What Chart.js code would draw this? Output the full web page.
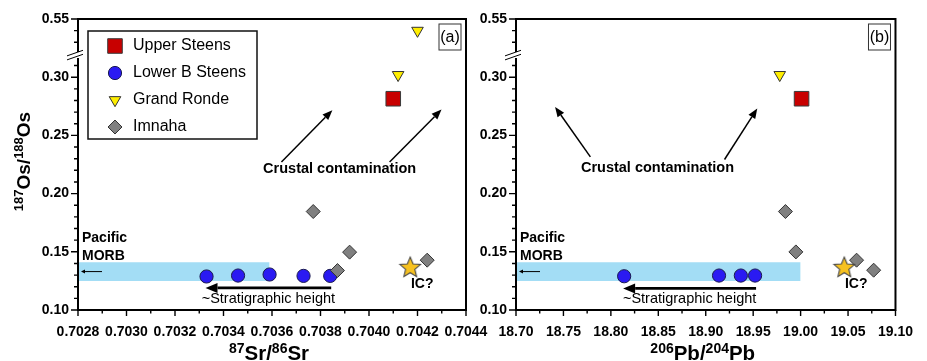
<!DOCTYPE html>
<html>
<head>
<meta charset="utf-8">
<title>187Os/188Os vs 87Sr/86Sr and 206Pb/204Pb</title>
<script src="https://cdn.jsdelivr.net/npm/chart.js@4.4.1/dist/chart.umd.min.js"></script>
<style>
  html, body { margin: 0; padding: 0; background: #fff; }
  #wrap { position: relative; width: 927px; height: 361px; }
  #wrap canvas { position: absolute; left: 0; top: 0; }
</style>
</head>
<body>
<div id="wrap">
  <canvas id="srChart" width="927" height="361"></canvas>
  <canvas id="pbChart" width="927" height="361"></canvas>
</div>
<script>
// ---- data ----
const seriesNames = ['Upper Steens', 'Lower B Steens', 'Grand Ronde', 'Imnaha'];

const upperSr = [0.70410];
const upperPb = [19.001];
const upperOsSr = [0.2815];
const upperOsPb = [0.2815];

const lowerSr = [0.70333, 0.70346, 0.70359, 0.70373, 0.70384];
const lowerOsSr = [0.1288, 0.1296, 0.1305, 0.1293, 0.1293];
const lowerPb = [18.814, 18.914, 18.937, 18.952];
const lowerOsPb = [0.1290, 0.1296, 0.1296, 0.1296];

const grandSr = [0.70420, 0.70412];
const grandOsSr = [0.540, 0.302];
const grandPb = [18.978];
const grandOsPb = [0.302];

const imnahaSr = [0.70377, 0.70392, 0.70387, 0.70424];
const imnahaOsSr = [0.1846, 0.1497, 0.1339, 0.1428];
const imnahaPb = [18.984, 18.995, 19.059, 19.077];
const imnahaOsPb = [0.1846, 0.1499, 0.1428, 0.1342];

const icSr = [0.70417];
const icPb = [19.046];
const icOs = [0.137];

// Pacific MORB field (Os range, upper end on each x axis)
const morbOs = [0.125, 0.141];
const morbSrMax = 0.70359;
const morbPbMax = 19.00;

const srTickLabels = ['0.7028', '0.7030', '0.7032', '0.7034', '0.7036', '0.7038', '0.7040', '0.7042', '0.7044'];
const pbTickLabels = ['18.70', '18.75', '18.80', '18.85', '18.90', '18.95', '19.00', '19.05', '19.10'];
const osTickLabels = ['0.10', '0.15', '0.20', '0.25', '0.30', '0.55'];

// y axis is broken between 0.33 and 0.53
const osGap = [0.33, 0.53];
const brk = v => (v >= osGap[1] ? v - (osGap[1] - osGap[0]) : v);

// ---- styles ----
const FONT = "'Liberation Sans', Arial, Helvetica, sans-serif";
Chart.defaults.font.family = FONT;
Chart.defaults.color = '#000';

const colors = {
  upper: '#c80000',
  lower: '#2a1af2',
  grand: '#ffee00',
  imnaha: '#808080',
  star: '#f7c220',
  morb: '#a3ddf5'
};

// filled five point star used as a point style
function makeStar(size, fill, stroke) {
  const c = document.createElement('canvas');
  c.width = size; c.height = size;
  const g = c.getContext('2d');
  const R = size / 2 - 1.2, r = R * 0.45, cx = size / 2, cy = size / 2 + 0.9;
  g.beginPath();
  for (let k = 0; k < 10; k++) {
    const rad = -Math.PI / 2 + k * Math.PI / 5;
    const rr = k % 2 ? r : R;
    g.lineTo(cx + Math.cos(rad) * rr, cy + Math.sin(rad) * rr);
  }
  g.closePath();
  g.fillStyle = fill; g.fill();
  g.strokeStyle = stroke; g.lineWidth = 1.1; g.stroke();
  return c;
}
const starImg = makeStar(24, colors.star, '#444');

// minor tick positions
const osMinor = [];
for (let k = 11; k <= 31; k++) if (k % 5) osMinor.push(k / 100);
osMinor.push(brk(0.53), brk(0.54));
const mids = vals => vals.slice(1).map((v, i) => (v + vals[i]) / 2);

const pts = (xs, ys) => xs.map((x, i) => ({ x, y: brk(ys[i]) }));

function buildDatasets(s) {
  return [
    { label: 'IC?', data: pts(s.icX, icOs), pointStyle: starImg, pointRadius: 12, backgroundColor: colors.star, borderColor: '#444', borderWidth: 1 },
    { label: 'Imnaha', data: pts(s.imnahaX, s.imnahaY), pointStyle: 'rectRot', pointRadius: 7, backgroundColor: colors.imnaha, borderColor: '#333', borderWidth: 1 },
    { label: 'Grand Ronde', data: pts(s.grandX, s.grandY), pointStyle: 'triangle', rotation: 180, pointRadius: 6.7, backgroundColor: colors.grand, borderColor: '#333', borderWidth: 1 },
    { label: 'Upper Steens', data: pts(s.upperX, s.upperY), pointStyle: 'rect', pointRadius: 10.3, backgroundColor: colors.upper, borderColor: '#3a3a3a', borderWidth: 1 },
    { label: 'Lower B Steens', data: pts(s.lowerX, s.lowerY), pointStyle: 'circle', pointRadius: 6.6, backgroundColor: colors.lower, borderColor: '#1a1a50', borderWidth: 1 },
    { label: 'morbTop', type: 'line', data: [{ x: s.xMin, y: morbOs[1] }, { x: s.morbMax, y: morbOs[1] }],
      borderWidth: 0, pointRadius: 0, fill: '+1', backgroundColor: colors.morb },
    { label: 'morbBottom', type: 'line', data: [{ x: s.xMin, y: morbOs[0] }, { x: s.morbMax, y: morbOs[0] }],
      borderWidth: 0, pointRadius: 0, fill: false }
  ];
}

// ---- drawing helpers ----
function arrow(ctx, x1, y1, x2, y2, lw, headLen, headW) {
  const ang = Math.atan2(y2 - y1, x2 - x1);
  const bx = x2 - Math.cos(ang) * headLen, by = y2 - Math.sin(ang) * headLen;
  ctx.lineWidth = lw;
  ctx.beginPath(); ctx.moveTo(x1, y1); ctx.lineTo(bx, by); ctx.stroke();
  ctx.beginPath();
  ctx.moveTo(x2, y2);
  ctx.lineTo(bx + Math.sin(ang) * headW / 2, by - Math.cos(ang) * headW / 2);
  ctx.lineTo(bx - Math.sin(ang) * headW / 2, by + Math.cos(ang) * headW / 2);
  ctx.closePath(); ctx.fill();
}

// text with superscript parts, centred on x, baseline y
function richText(ctx, parts, x, y, big, small, raise) {
  let total = 0;
  const widths = parts.map(p => {
    ctx.font = p.sup ? small : big;
    const w = ctx.measureText(p.t).width;
    total += w;
    return w;
  });
  let cx = x - total / 2;
  ctx.textAlign = 'left';
  ctx.textBaseline = 'alphabetic';
  parts.forEach((p, i) => {
    ctx.font = p.sup ? small : big;
    ctx.fillText(p.t, cx, p.sup ? y - raise : y);
    cx += widths[i];
  });
}

// frame, tick marks and axis break
const framePlugin = {
  id: 'frame',
  afterDraw(chart, args, opts) {
    const { ctx, chartArea: a, scales: { x, y } } = chart;
    ctx.save();
    ctx.strokeStyle = '#000';
    ctx.lineWidth = 1.4;
    ctx.beginPath();
    x.ticks.forEach(t => { const p = x.getPixelForValue(t.value); ctx.moveTo(p, a.bottom); ctx.lineTo(p, a.bottom + 6); });
    mids(x.ticks.map(t => t.value)).forEach(v => { const p = x.getPixelForValue(v); ctx.moveTo(p, a.bottom); ctx.lineTo(p, a.bottom + 3.5); });
    y.ticks.forEach(t => { const p = y.getPixelForValue(t.value); ctx.moveTo(a.left, p); ctx.lineTo(a.left - 7, p); });
    osMinor.forEach(v => { const p = y.getPixelForValue(v); ctx.moveTo(a.left, p); ctx.lineTo(a.left - 4, p); });
    ctx.stroke();

    const yb = y.getPixelForValue(opts.breakAt);
    ctx.lineWidth = 2;
    ctx.beginPath();
    ctx.moveTo(a.left, yb + 3);
    ctx.lineTo(a.left, a.bottom);
    ctx.lineTo(a.right, a.bottom);
    ctx.lineTo(a.right, a.top);
    ctx.lineTo(a.left, a.top);
    ctx.lineTo(a.left, yb - 3);
    ctx.stroke();
    ctx.lineWidth = 1;
    ctx.beginPath();
    [-2, 2].forEach(d => { ctx.moveTo(a.left - 11, yb + d + 2.8); ctx.lineTo(a.left + 5, yb + d - 2.8); });
    ctx.stroke();
    ctx.restore();
  }
};

// annotations, legend box and axis titles
const notesPlugin = {
  id: 'notes',
  afterDatasetsDraw(chart, args, o) {
    const { ctx, chartArea: a, scales: { x, y } } = chart;
    const X = v => x.getPixelForValue(v), Y = v => y.getPixelForValue(v);
    ctx.save();
    ctx.fillStyle = '#000';
    ctx.strokeStyle = '#000';

    // crustal contamination
    ctx.font = `bold 14.5px ${FONT}`;
    ctx.textAlign = 'center'; ctx.textBaseline = 'middle';
    ctx.fillText('Crustal contamination', X(o.crustal.at[0]), Y(o.crustal.at[1]));
    o.crustal.arrows.forEach(r => arrow(ctx, X(r[0]), Y(r[1]), X(r[2]), Y(r[3]), 1.5, 10, 8));

    // Pacific MORB label and arrow inside the band
    const bandTop = Y(morbOs[1]);
    ctx.font = `bold 14px ${FONT}`;
    ctx.textAlign = 'left';
    ctx.fillText('Pacific', a.left + 4, bandTop - 24);
    ctx.fillText('MORB', a.left + 4, bandTop - 6);
    const bandMid = Y((morbOs[0] + morbOs[1]) / 2);
    arrow(ctx, a.left + 24, bandMid, a.left + 3, bandMid, 1, 4, 4);

    // stratigraphic height arrow under the Lower B Steens points
    const x0 = X(Math.max(...o.strat.xs)) + 1, x1 = X(Math.min(...o.strat.xs)) - 1;
    arrow(ctx, x0, Y(o.strat.y), x1, Y(o.strat.y), 2.8, 12, 10);
    ctx.font = `14.5px ${FONT}`;
    ctx.textAlign = 'center';
    ctx.fillText('~Stratigraphic height', (x0 + x1) / 2, Y(o.strat.textY));

    // IC? next to the star
    ctx.font = `bold 14px ${FONT}`;
    ctx.fillText('IC?', X(o.ic[0]) + 12, Y(o.ic[1]) + 17);

    // panel tag
    ctx.lineWidth = 1;
    ctx.strokeStyle = '#333';
    ctx.strokeRect(a.right - 27, a.top + 5, 22, 26);
    ctx.font = `16px ${FONT}`;
    ctx.fillText(o.tag, a.right - 16, a.top + 18.5);

    // legend
    if (o.legend) {
      const lx = a.left + 10, ly = a.top + 12;
      ctx.lineWidth = 1.5;
      ctx.strokeStyle = '#111';
      ctx.strokeRect(lx, ly, 169, 108);
      seriesNames.forEach((name, i) => {
        const ds = chart.data.datasets.find(d => d.label === name);
        const cy = ly + 15 + i * 27;
        ctx.fillStyle = ds.backgroundColor;
        ctx.strokeStyle = ds.borderColor;
        ctx.lineWidth = ds.borderWidth;
        Chart.helpers.drawPoint(ctx, { pointStyle: ds.pointStyle, rotation: ds.rotation || 0, radius: ds.pointRadius, borderWidth: ds.borderWidth }, lx + 27, cy);
        ctx.fillStyle = '#000';
        ctx.font = `16px ${FONT}`;
        ctx.textAlign = 'left'; ctx.textBaseline = 'middle';
        ctx.fillText(name, lx + 45, cy);
      });
    }

    // axis titles
    ctx.fillStyle = '#000';
    richText(ctx, o.xTitle, (a.left + a.right) / 2 - 3, 359.5, `bold 20.5px ${FONT}`, `bold 14px ${FONT}`, 6.5);
    if (o.yTitle) {
      ctx.save();
      ctx.translate(29.5, (a.top + a.bottom) / 2 - 3);
      ctx.rotate(-Math.PI / 2);
      richText(ctx, o.yTitle, 0, 0, `bold 19px ${FONT}`, `bold 13px ${FONT}`, 6.5);
      ctx.restore();
    }
    ctx.restore();
  }
};

function makeChart(id, s) {
  const xTicks = s.xLabels.map(parseFloat);
  const yTicks = osTickLabels.map(t => brk(parseFloat(t)));
  return new Chart(document.getElementById(id), {
    type: 'scatter',
    data: { datasets: buildDatasets(s) },
    plugins: [framePlugin, notesPlugin],
    options: {
      responsive: false,
      animation: false,
      events: [],
      layout: { padding: { left: s.padLeft, right: s.padRight, top: 19, bottom: 0 } },
      scales: {
        x: {
          type: 'linear',
          min: xTicks[0],
          max: xTicks[xTicks.length - 1],
          afterBuildTicks: sc => { sc.ticks = xTicks.map(v => ({ value: v })); },
          afterFit: sc => { sc.height = 51; },
          grid: { display: false, drawTicks: false },
          border: { display: false },
          ticks: { font: { size: 14, weight: 'bold' }, color: '#000', padding: 14, autoSkip: false, maxRotation: 0,
                   callback: (v, i) => s.xLabels[i] }
        },
        y: {
          type: 'linear',
          min: yTicks[0],
          max: yTicks[yTicks.length - 1],
          afterBuildTicks: sc => { sc.ticks = yTicks.map(v => ({ value: v })); },
          afterFit: sc => { sc.width = 78; },
          grid: { display: false, drawTicks: false },
          border: { display: false },
          ticks: { font: { size: 14, weight: 'bold' }, color: '#000', padding: 9, autoSkip: false,
                   callback: (v, i) => osTickLabels[i] }
        }
      },
      plugins: {
        legend: { display: false },
        tooltip: { enabled: false },
        frame: { breakAt: 0.319 },
        notes: s.notes
      }
    }
  });
}

const osTitle = [{ t: '187', sup: true }, { t: 'Os' }, { t: '/' }, { t: '188', sup: true }, { t: 'Os' }];

makeChart('srChart', {
  xLabels: srTickLabels, xMin: parseFloat(srTickLabels[0]), morbMax: morbSrMax,
  padLeft: 0, padRight: 461,
  upperX: upperSr, upperY: upperOsSr, lowerX: lowerSr, lowerY: lowerOsSr,
  grandX: grandSr, grandY: grandOsSr, imnahaX: imnahaSr, imnahaY: imnahaOsSr, icX: icSr,
  notes: {
    crustal: { at: [0.703879, 0.221], arrows: [[0.703639, 0.2272, 0.703849, 0.2717], [0.704085, 0.2272, 0.704299, 0.2722]] },
    strat: { xs: lowerSr, y: 0.119, textY: 0.1093 },
    ic: [icSr[0], icOs[0]],
    tag: '(a)',
    legend: true,
    xTitle: [{ t: '87', sup: true }, { t: 'Sr' }, { t: '/' }, { t: '86', sup: true }, { t: 'Sr' }],
    yTitle: osTitle
  }
});

makeChart('pbChart', {
  xLabels: pbTickLabels, xMin: parseFloat(pbTickLabels[0]), morbMax: morbPbMax,
  padLeft: 438, padRight: 24,
  upperX: upperPb, upperY: upperOsPb, lowerX: lowerPb, lowerY: lowerOsPb,
  grandX: grandPb, grandY: grandOsPb, imnahaX: imnahaPb, imnahaY: imnahaOsPb, icX: icPb,
  notes: {
    crustal: { at: [18.8491, 0.2218], arrows: [[18.7784, 0.2315, 18.7412, 0.2745], [18.9198, 0.2293, 18.9543, 0.2731]] },
    strat: { xs: lowerPb, y: 0.1185, textY: 0.1093 },
    ic: [icPb[0], icOs[0]],
    tag: '(b)',
    legend: false,
    xTitle: [{ t: '206', sup: true }, { t: 'Pb' }, { t: '/' }, { t: '204', sup: true }, { t: 'Pb' }],
    yTitle: null
  }
});
</script>
</body>
</html>
